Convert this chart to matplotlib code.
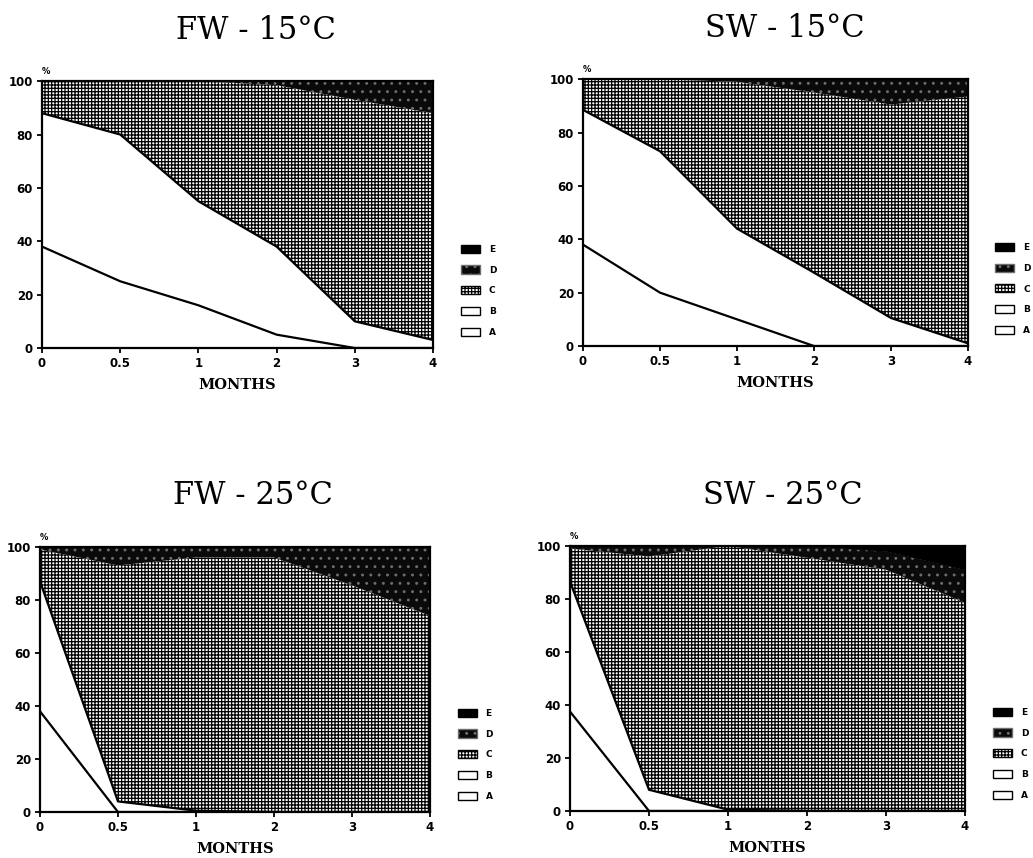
'''Stage composition figures

Stacked area plots of the share of stages A-E over four months for
fresh water (FW) and sea water (SW) at 15 and 25 degrees.
'''

# ----------------------------------------------------------------------------
# Modules

import matplotlib
matplotlib.use('Agg')
from matplotlib import pyplot as plt
from matplotlib.patches import Patch
import numpy as np

# ----------------------------------------------------------------------------
# Data

months = ['0', '0.5', '1', '2', '3', '4']
y_ticks = [0, 20, 40, 60, 80, 100]
stages = ['A', 'B', 'C', 'D', 'E']

titles = ['FW - 15°C', 'SW - 15°C', 'FW - 25°C', 'SW - 25°C']

fw15_a = [38, 25, 16, 5, 0, 0]
fw15_b = [50, 55, 39, 33, 10, 3]
fw15_c = [12, 20, 45, 60.5, 83, 85]
fw15_d = [0, 0, 0, 1.5, 7, 12]
fw15_e = [0, 0, 0, 0, 0, 0]

sw15_a = [38, 20, 10, 0, 0, 0]
sw15_b = [50.5, 53, 34, 27.5, 10.5, 1]
sw15_c = [11.5, 27, 55, 67.5, 80, 92.5]
sw15_d = [0, 0, 1, 5, 9.5, 6.5]
sw15_e = [0, 0, 0, 0, 0, 0]

fw25_a = [38, 0, 0, 0, 0, 0]
fw25_b = [49, 4, 0.5, 0, 0, 0]
fw25_c = [12, 89, 95.5, 96, 85.5, 74]
fw25_d = [1, 7, 4, 4, 14.5, 26]
fw25_e = [0, 0, 0, 0, 0, 0]

sw25_a = [37.5, 0, 0, 0, 0, 0]
sw25_b = [49, 8, 0.5, 0, 0, 0]
sw25_c = [12.5, 88, 99.5, 95.5, 91, 78.5]
sw25_d = [1, 4, 0, 4.5, 7, 12.5]
sw25_e = [0, 0, 0, 0, 2, 9]

panels = [
    [fw15_a, fw15_b, fw15_c, fw15_d, fw15_e],
    [sw15_a, sw15_b, sw15_c, sw15_d, sw15_e],
    [fw25_a, fw25_b, fw25_c, fw25_d, fw25_e],
    [sw25_a, sw25_b, sw25_c, sw25_d, sw25_e],
]

# ----------------------------------------------------------------------------


def stage_style(stage):
    """Face colour, hatch colour and hatch of one stage."""
    styles = {
        'A': ('white', 'white', None),
        'B': ('white', 'white', None),
        'C': ('white', 'black', '+++++'),
        'D': ('#0a0a0a', '#6e6e6e', '..'),
        'E': ('black', 'black', None),
    }
    return styles[stage]


def stage_panel(ax, values, title, title_pos):
    """Draws one stacked area panel."""

    x = np.arange(len(months))
    tops = np.cumsum(np.array(values, dtype=float), axis=0)
    bottom = np.zeros(len(months))

    for stage, top in zip(stages, tops):
        face, hatch_col, hatch = stage_style(stage)
        ax.fill_between(x, bottom, top, facecolor=face, edgecolor=hatch_col,
                        hatch=hatch, linewidth=0)
        bottom = top

    # black borders of the lower stages
    ax.plot(x, tops[0], color='black', linewidth=1.6)
    ax.plot(x, tops[1], color='black', linewidth=1.6)

    ax.set_xlim(0, len(months) - 1)
    ax.set_ylim(0, 100)
    ax.set_xticks(x)
    ax.set_xticklabels(months)
    ax.set_yticks(y_ticks)
    ax.tick_params(direction='out', length=3.5, width=1.3, labelsize=8.5,
                   pad=3)
    for lab in ax.get_xticklabels() + ax.get_yticklabels():
        lab.set_fontweight('bold')
    for spine in ax.spines.values():
        spine.set_linewidth(1.6)

    ax.set_xlabel('MONTHS', fontsize=10.5, fontweight='bold',
                  family='DejaVu Serif', labelpad=5.5)
    ax.text(0.01, 1.02, '%', transform=ax.transAxes, fontsize=6,
            fontweight='bold', ha='center', va='bottom')

    handles = []
    for stage in stages[::-1]:
        face, hatch_col, hatch = stage_style(stage)
        edge = 'black' if hatch_col == 'white' else hatch_col
        handles.append(Patch(facecolor=face, edgecolor=edge, hatch=hatch,
                             linewidth=1.0, label=stage))
    ax.legend(handles=handles, loc='lower left', bbox_to_anchor=(1.05, 0.01),
              frameon=False, handlelength=2.1, handleheight=1.0,
              labelspacing=1.3, handletextpad=1.0,
              prop={'weight': 'bold', 'size': 6.5})

    ax.figure.text(title_pos[0], title_pos[1], title, fontsize=22,
                   family='DejaVu Serif', ha='center', va='center')

    return None

# ----------------------------------------------------------------------------


def main():

    plt.rcParams['hatch.linewidth'] = 0.9

    figure = plt.figure(figsize=(10.33, 8.58), dpi=100)

    boxes = [
        [0.0407, 0.5944, 0.3785, 0.311],
        [0.5644, 0.5967, 0.3727, 0.311],
        [0.0387, 0.0536, 0.3775, 0.309],
        [0.5518, 0.0548, 0.3824, 0.309],
    ]
    title_xy = [(0.248, 0.965), (0.760, 0.967), (0.245, 0.422),
                (0.758, 0.422)]

    for box, values, title, pos in zip(boxes, panels, titles, title_xy):
        ax = figure.add_axes(box)
        stage_panel(ax, values, title, pos)

    figure.savefig('out.png', dpi=100)

    return None

# ----------------------------------------------------------------------------


if __name__ == "__main__":
    main()
